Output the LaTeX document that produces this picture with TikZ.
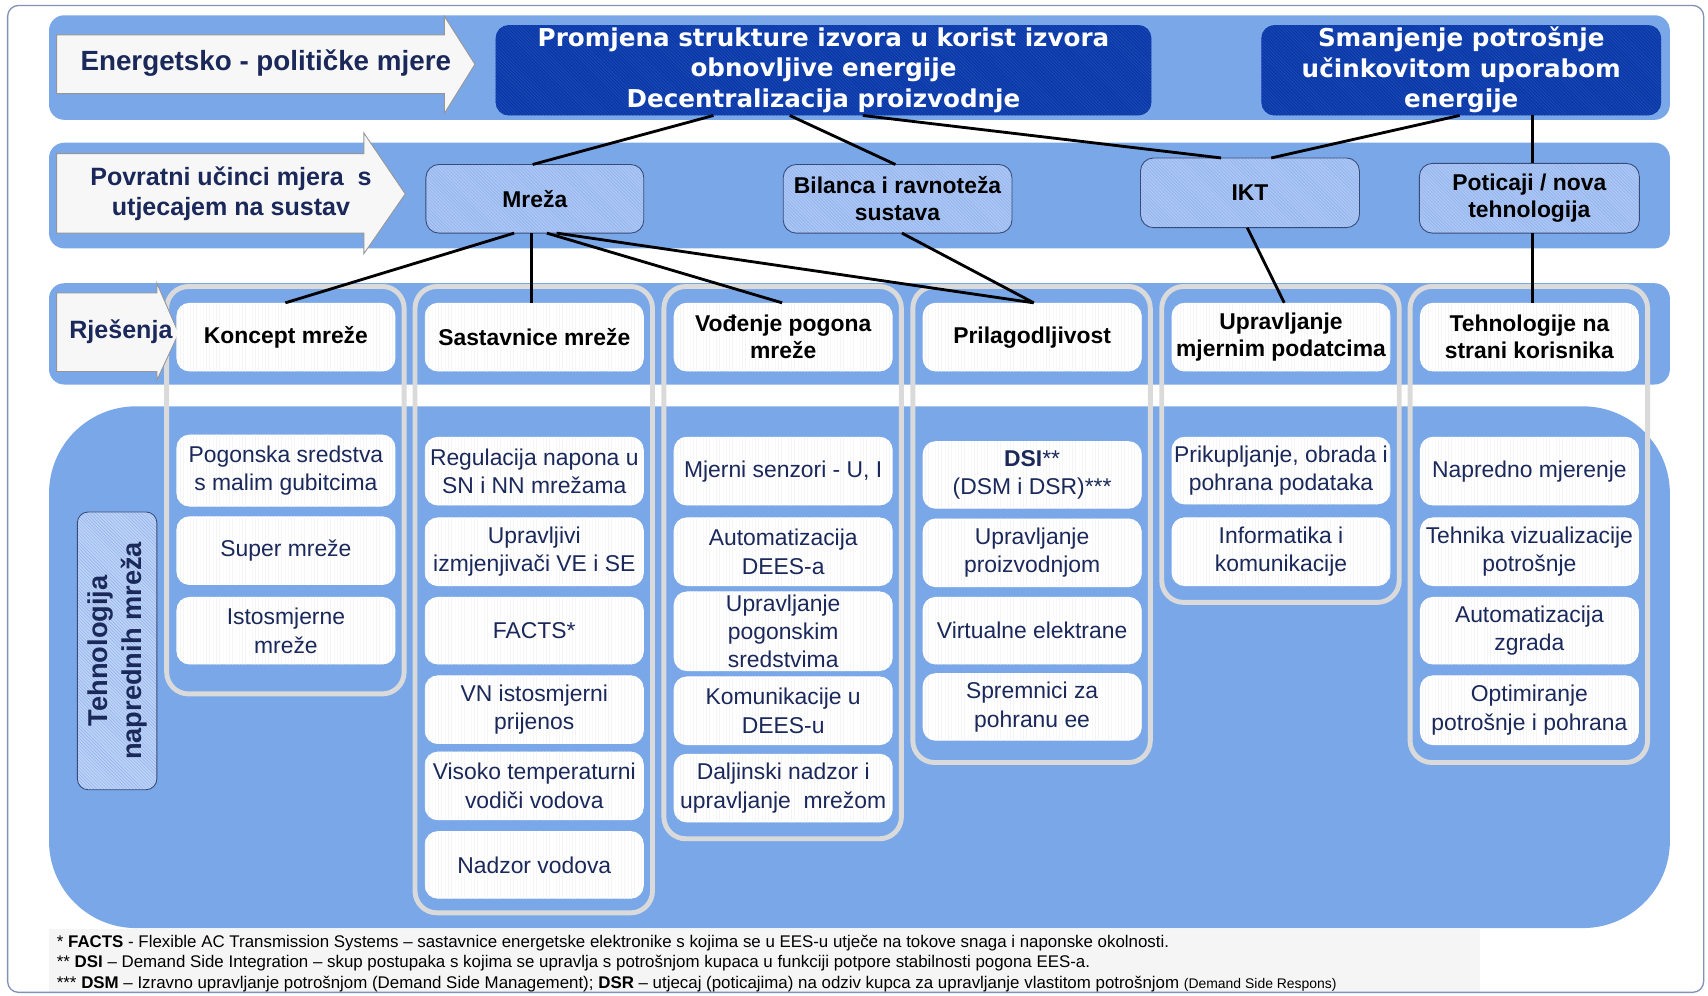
\documentclass[tikz,border=0pt]{standalone}
\usepackage{fontspec}
\setmainfont{Liberation Sans}
\newfontfamily\verd{DejaVu Sans}
\usetikzlibrary{patterns,calc}
\definecolor{bandc}{RGB}{122,167,232}
\definecolor{darkc}{RGB}{11,57,168}
\definecolor{darkhatch}{RGB}{32,78,186}
\definecolor{ltwofill}{RGB}{170,198,246}
\definecolor{ltwohatch}{RGB}{145,176,232}
\definecolor{ltwodraw}{RGB}{55,75,120}
\definecolor{navy}{RGB}{26,40,90}
\definecolor{colfr}{RGB}{218,218,218}
\definecolor{arrowfill}{RGB}{247,247,247}
\definecolor{arrowdraw}{RGB}{150,150,150}
\definecolor{outerc}{RGB}{130,145,180}
\definecolor{labfill}{RGB}{188,211,247}
\definecolor{footbg}{RGB}{245,245,245}
\tikzset{
  band/.style={fill=bandc, rounded corners=14pt},
  arrowshape/.style={fill=arrowfill, draw=arrowdraw, line width=0.8pt},
  arrowtext/.style={text=navy, align=center, inner sep=0pt},
  darkbox/.style={rectangle, rounded corners=12pt, preaction={fill=darkc}, pattern=north west lines, pattern color=darkhatch,
    inner sep=0pt, outer sep=0pt, text=white, font=\verd\bfseries\fontsize{22.6}{28}\selectfont, align=center},
  lvltwo/.style={rectangle, rounded corners=12pt, preaction={fill=ltwofill}, pattern=north west lines, pattern color=ltwohatch,
    draw=ltwodraw, line width=0.8pt, font=\bfseries\fontsize{21}{25}\selectfont, align=center, inner sep=0pt, outer sep=0pt},
  header/.style={rectangle, rounded corners=12pt, preaction={fill=white}, pattern=vertical lines, pattern color=black!4,
    font=\bfseries\fontsize{21}{25}\selectfont, align=center, minimum width=201pt, minimum height=63pt, inner sep=0pt, outer sep=0pt},
  item/.style={rectangle, rounded corners=12pt, preaction={fill=white}, pattern=vertical lines, pattern color=black!4,
    font=\fontsize{21}{26}\selectfont, text=navy, align=center, minimum width=201pt, inner sep=0pt, outer sep=0pt},
  colframe/.style={draw=colfr, line width=4.5pt, rounded corners=20pt},
  vlabel/.style={rectangle, rounded corners=10pt, preaction={fill=labfill}, pattern=north west lines, pattern color=ltwohatch,
    draw=ltwodraw, line width=0.8pt, minimum width=255pt, minimum height=73pt, inner sep=0pt,
    font=\bfseries\fontsize{25}{31}\selectfont, text=navy, align=center},
  conn/.style={line width=2.6pt, black},
  foot/.style={font=\fontsize{15.5}{17}\selectfont, inner sep=0pt, anchor=west}
}
\begin{document}
\begin{tikzpicture}[x=1pt,y=-1pt]
\useasboundingbox (0,0) rectangle (1568,914);
% background
\fill[footbg] (45,853) rectangle (1359,911);
\draw[outerc, line width=1.2pt, rounded corners=10pt] (7,5) rectangle (1564,911);
% bands
\fill[band] (45,14) rectangle (1533,110);
\fill[band] (45,131) rectangle (1533,228);
\fill[band] (45,260) rectangle (1533,353);
\fill[bandc, rounded corners=80pt] (45,373) rectangle (1533,852);
% column frames
\foreach \x/\b in {262.5/637, 490.5/838, 719/770, 947.5/700, 1176/553, 1404/700}
  \draw[colframe] (\x-109.5,263) rectangle (\x+108.5,\b);
% arrows
\draw[arrowshape] (52,32) -- (408,32) -- (408,15) -- (436,59) -- (408,104) -- (408,86) -- (52,86) -- cycle;
\node[arrowtext, font=\bfseries\fontsize{25.5}{30}\selectfont] (ep) at (244,58) {Energetsko - političke mjere};
\draw[arrowshape] (52,141) -- (334,141) -- (334,122) -- (372,178) -- (334,233) -- (334,214) -- (52,214) -- cycle;
\node[arrowtext, font=\bfseries\fontsize{23}{27.5}\selectfont] (pu) at (212,178) {Povratni učinci mjera\ \ s\\utjecajem na sustav};
\draw[arrowshape] (52,269) -- (144,269) -- (144,260) -- (164,306) -- (144,349) -- (144,341) -- (52,341) -- cycle;
\node[arrowtext, font=\bfseries\fontsize{23}{27.5}\selectfont] (rj) at (111,305) {Rješenja};
% level 1
\node[darkbox, minimum width=602pt, minimum height=83pt] (boxA) at (756,64.5)
  {Promjena strukture izvora u korist izvora\\obnovljive energije\\Decentralizacija proizvodnje};
\node[darkbox, minimum width=367pt, minimum height=83pt] (boxB) at (1341.5,64.5)
  {Smanjenje potrošnje\\učinkovitom uporabom\\energije};
% level 2
\node[lvltwo, minimum width=200pt, minimum height=63pt] (mreza) at (491,182.5) {Mreža};
\node[lvltwo, minimum width=210pt, minimum height=63pt] (bilanca) at (824,182.5) {Bilanca i ravnoteža\\sustava};
\node[lvltwo, minimum width=201pt, minimum height=64pt] (ikt) at (1147.5,177) {IKT};
\node[lvltwo, minimum width=202pt, minimum height=64pt] (poticaji) at (1404,182) {Poticaji / nova\\tehnologija};
% headers
\node[header] (hk) at (262.5,309.5) {Koncept mreže};
\node[header] (hs) at (490.5,309.5) {Sastavnice mreže};
\node[header] (hv) at (719,309.5) {Vođenje pogona\\mreže};
\node[header] (hp) at (947.5,309.5) {Prilagodljivost};
\node[header] (hu) at (1176,309.5) {Upravljanje\\mjernim podatcima};
\node[header] (ht) at (1404,309.5) {Tehnologije na\\strani korisnika};
% vertical label
\node[vlabel, rotate=90] (tnm) at (107.5,597.5) {Tehnologija\\naprednih mreža};
% column 1
\node[item, minimum height=66pt] (k1) at (262.5,432) {Pogonska sredstva\\s malim gubitcima};
\node[item, minimum height=63pt] (k2) at (262.5,505.5) {Super mreže};
\node[item, minimum height=62pt] (k3) at (262.5,579) {Istosmjerne\\mreže};
% column 2
\node[item, minimum height=63pt] (s1) at (490.5,432.5) {Regulacija napona u\\SN i NN mrežama};
\node[item, minimum height=63pt] (s2) at (490.5,506.5) {Upravljivi\\izmjenjivači VE i SE};
\node[item, minimum height=62pt] (s3) at (490.5,579) {FACTS*};
\node[item, minimum height=63pt] (s4) at (490.5,651.5) {VN istosmjerni\\prijenos};
\node[item, minimum height=63pt] (s5) at (490.5,721.5) {Visoko temperaturni\\vodiči vodova};
\node[item, minimum height=62pt] (s6) at (490.5,794) {Nadzor vodova};
% column 3
\node[item, minimum height=63pt] (v1) at (719,432.5) {Mjerni senzori - U, I};
\node[item, minimum height=63pt] (v2) at (719,506.5) {Automatizacija\\DEES-a};
\node[item, minimum height=73pt, font=\fontsize{21}{25.5}\selectfont] (v3) at (719,579.5) {Upravljanje\\pogonskim\\sredstvima};
\node[item, minimum height=63pt] (v4) at (719,652.5) {Komunikacije u\\DEES-u};
\node[item, minimum height=63pt] (v5) at (719,723.5) {Daljinski nadzor i\\upravljanje\ \ mrežom};
% column 4
\node[item, minimum height=62pt] (p1) at (947.5,436) {{\bfseries DSI}**\\(DSM i DSR)***};
\node[item, minimum height=63pt] (p2) at (947.5,507.5) {Upravljanje\\proizvodnjom};
\node[item, minimum height=62pt] (p3) at (947.5,579) {Virtualne elektrane};
\node[item, minimum height=62pt] (p4) at (947.5,649) {Spremnici za\\pohranu ee};
% column 5
\node[item, minimum height=62pt] (u1) at (1176,432) {Prikupljanje, obrada i\\pohrana podataka};
\node[item, minimum height=63pt] (u2) at (1176,506.5) {Informatika i\\komunikacije};
% column 6
\node[item, minimum height=63pt] (t1) at (1404,432.5) {Napredno mjerenje};
\node[item, minimum height=63pt] (t2) at (1404,506.5) {Tehnika vizualizacije\\potrošnje};
\node[item, minimum height=62pt] (t3) at (1404,579) {Automatizacija\\zgrada};
\node[item, minimum height=64pt] (t4) at (1404,652) {Optimiranje\\potrošnje i pohrana};
% connectors
\draw[conn] ($(boxA.south)+(-101,0)$) -- ($(mreza.north)+(-2,0)$);
\draw[conn] ($(boxA.south)+(-31,0)$) -- ($(bilanca.north)+(-2,0)$);
\draw[conn] ($(boxA.south)+(36,0)$) -- ($(ikt.north)+(-26.5,0)$);
\draw[conn] ($(boxB.south)+(-1.5,0)$) -- ($(ikt.north)+(19.5,0)$);
\draw[conn] ($(boxB.south)+(65.5,0)$) -- ($(poticaji.north)+(3,0)$);
\draw[conn] ($(poticaji.south)+(3,0)$) -- ($(ht.north)+(3,0)$);
\draw[conn] ($(ikt.south)+(-2.5,0)$) -- ($(hu.north)+(3,0)$);
\draw[conn] ($(mreza.south)+(-19,0)$) -- ($(hk.north)+(-0.5,0)$);
\draw[conn] ($(mreza.south)+(-3,0)$) -- ($(hs.north)+(-2.5,0)$);
\draw[conn] ($(mreza.south)+(11,0)$) -- ($(hv.north)+(-1,0)$);
\draw[conn] ($(mreza.south)+(20,0)$) -- ($(hp.north)+(1.5,0)$);
\draw[conn] ($(bilanca.south)+(4,0)$) -- ($(hp.north)+(1.5,0)$);
% footnotes
\node[foot] (f1) at (52,866) {* \textbf{FACTS} - Flexible AC Transmission Systems – sastavnice energetske elektronike s kojima se u EES-u utječe na tokove snaga i naponske okolnosti.};
\node[foot] (f2) at (52,884.5) {** \textbf{DSI} – Demand Side Integration – skup postupaka s kojima se upravlja s potrošnjom kupaca u funkciji potpore stabilnosti pogona EES-a.};
\node[foot] (f3) at (52,903) {*** \textbf{DSM} – Izravno upravljanje potrošnjom (Demand Side Management); \textbf{DSR} – utjecaj (poticajima) na odziv kupca za upravljanje vlastitom potrošnjom {\fontsize{12.8}{14}\selectfont(Demand Side Respons)}};
\end{tikzpicture}
\end{document}
